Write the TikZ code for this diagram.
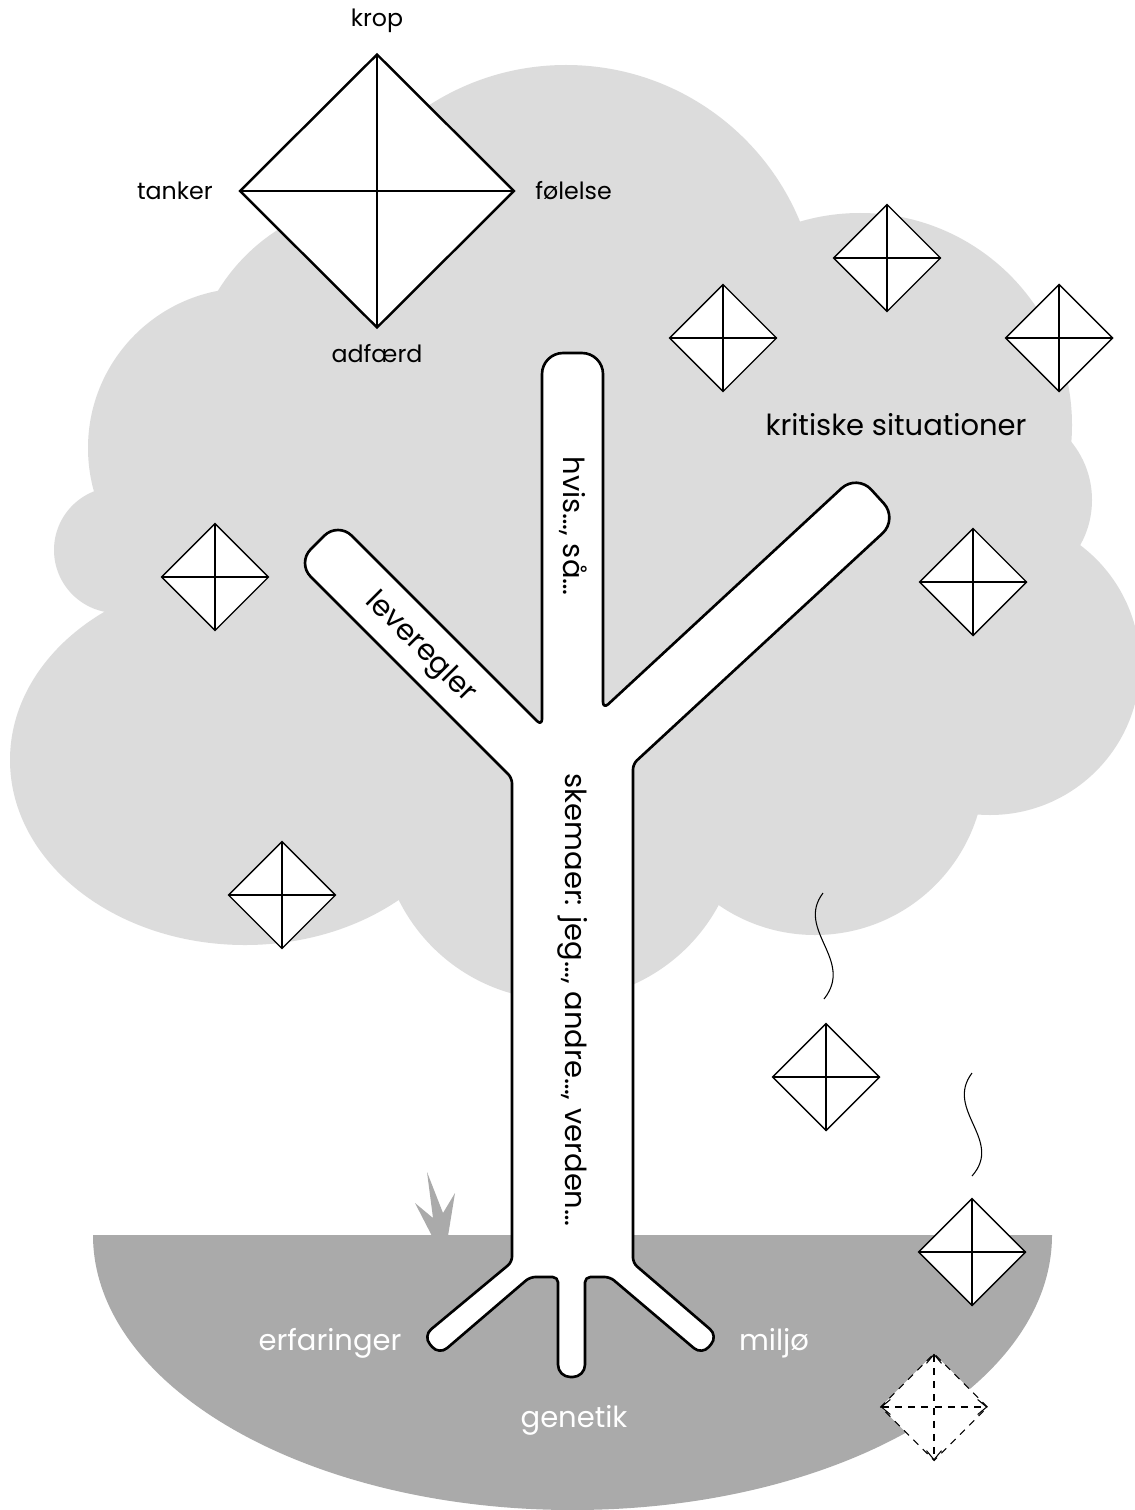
\documentclass[tikz,border=0pt]{standalone}
\usepackage{fontspec}
\setmainfont{Poppins}
\usetikzlibrary{arrows.meta, positioning, shapes.geometric}

\definecolor{crown}{HTML}{DCDCDC}
\definecolor{soil}{HTML}{AAAAAA}

\begin{document}
\begin{tikzpicture}[x=0.02cm, y=-0.02cm,
	kite/.style = {% small reaction diamond
		diamond, draw, fill=white, inner sep=0pt, outer sep=0pt,
		minimum width=2.14cm, minimum height=2.14cm, line width=0.8pt},
	bigkite/.style = {kite, minimum width=5.48cm, minimum height=5.46cm, line width=1.4pt},
	fallkite/.style = {kite, line width=0.6pt, dash pattern=on 4pt off 3.5pt},
	cross/.style = {line width=0.8pt},
	tree/.style = {draw, fill=white, line width=1.5pt, line join=round},
	lbl/.style = {inner sep=0pt, font=\fontsize{13.5}{16}\selectfont},
	big/.style = {inner sep=0pt, font=\fontsize{16.5}{19}\selectfont},
	rootlbl/.style = {big, text=white},
	wisp/.style = {line width=0.6pt}]

\useasboundingbox (0,0) rectangle (1134,1510);
\fill[white] (0,0) rectangle (1134,1510);

% crown: a cloud made of circles
\begin{scope}[crown]
\fill (566,318) circle[radius=253];
\fill (860,425) circle[radius=212];
\fill (1000,500) circle[radius=92];
\fill (990,665) circle[radius=150];
\fill (815,765) circle[radius=170];
\fill (560,820) circle[radius=180];
\fill (245,760) ellipse[x radius=235, y radius=185];
\fill (117,550) circle[radius=63];
\fill (248,448) circle[radius=160];
\fill (380,390) circle[radius=190];
\fill (250,300) rectangle (900,850);
\end{scope}

% ground with a tuft of grass
\fill[soil] (93,1235) -- (1052,1235) arc[start angle=0, end angle=180, x radius=479.5, y radius=275] -- cycle;
\fill[soil] (432,1236) -- (415,1203) -- (433,1218) -- (427,1172) -- (443,1213)
	-- (455,1193) -- (448,1236) -- cycle;

% the tree
\draw[tree] (512,1262)
	[rounded corners=3pt] -- (512,778)
	[rounded corners=11pt] -- (297,563) -- (338,522)
	[rounded corners=4pt] -- (542,726)
	[rounded corners=12pt] -- (542,353) -- (603,353)
	[rounded corners=4pt] -- (603,709)
	[rounded corners=12pt] -- (857,474) -- (898,519)
	[rounded corners=3pt] -- (633,764) -- (633,1263)
	[rounded corners=6pt] -- (718,1336) -- (702,1355)
	[rounded corners=3pt] -- (610,1277) -- (585,1277)
	[rounded corners=7pt] -- (585,1377) -- (558,1377)
	[rounded corners=3pt] -- (558,1277) -- (530,1277)
	[rounded corners=6pt] -- (439,1355) -- (423,1336)
	[rounded corners=3pt] -- cycle;

\node[big, rotate=-90] (rules) at (573,526) {hvis…, så…};
\node[big, rotate=-45] (life) at (420,648) {leveregler};
\node[big, rotate=-90] (schema) at (573,1000) {skemaer: jeg…, andre…, verden…};

% roots
\node[rootlbl] (exp)  at (330,1343) {erfaringer};
\node[rootlbl] (env)  at (774,1343) {miljø};
\node[rootlbl] (gene) at (574,1420) {genetik};

% the big diamond
\node[bigkite] (mind) at (377,191) {};
\draw[line width=1.4pt] (mind.north) -- (mind.south) (mind.west) -- (mind.east);
\node[lbl, above=4.4mm of mind.north] (body) {krop};
\node[lbl, left=5.4mm of mind.west] (thought) {tanker};
\node[lbl, right=4.2mm of mind.east] (feel) {følelse};
\node[lbl, below=3.4mm of mind.south] (act) {adfærd};

% small diamonds in the crown
\node[kite] (k1) at (723,338) {};
\node[kite] (k2) at (887,258) {};
\node[kite] (k3) at (1059,338) {};
\node[kite] (k4) at (973,582) {};
\node[kite] (k5) at (215,577) {};
\node[kite] (k6) at (282,895) {};
\draw[cross] (k1.north) -- (k1.south) (k1.west) -- (k1.east);
\draw[cross] (k2.north) -- (k2.south) (k2.west) -- (k2.east);
\draw[cross] (k3.north) -- (k3.south) (k3.west) -- (k3.east);
\draw[cross] (k4.north) -- (k4.south) (k4.west) -- (k4.east);
\draw[cross] (k5.north) -- (k5.south) (k5.west) -- (k5.east);
\draw[cross] (k6.north) -- (k6.south) (k6.west) -- (k6.east);

\node[big] (crit) at (896,425) {kritiske situationer};

% falling diamonds
\node[kite] (k7) at (826,1077) {};
\node[kite] (k8) at (972,1252) {};
\draw[cross] (k7.north) -- (k7.south) (k7.west) -- (k7.east);
\draw[cross] (k8.north) -- (k8.south) (k8.west) -- (k8.east);
\draw[wisp] (823,893) .. controls (795,930) and (855,960) .. (824,999);
\draw[wisp] (972,1073) .. controls (944,1110) and (1004,1140) .. (972,1176);

\node[fallkite] (fall) at (934,1407) {};
\draw[line width=0.6pt, dash pattern=on 4pt off 3.5pt,
	{Straight Barb[length=1.8mm, width=3mm]}-{Straight Barb[length=1.8mm, width=3mm]}]
	(fall.west) -- (fall.east);
\draw[line width=0.6pt, dash pattern=on 4pt off 3.5pt,
	{Straight Barb[length=1.8mm, width=3mm]}-{Straight Barb[length=1.8mm, width=3mm]}]
	(fall.north) -- (fall.south);

\end{tikzpicture}
\end{document}
